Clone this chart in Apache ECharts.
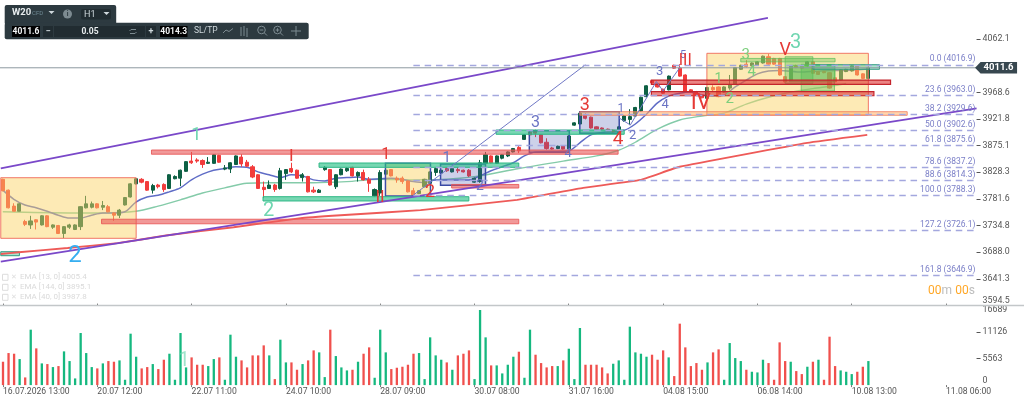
<!DOCTYPE html>
<html><head><meta charset="utf-8">
<style>html,body{margin:0;padding:0;background:#fff}#c{width:1024px;height:402px}</style>
<script src="https://cdn.jsdelivr.net/npm/echarts@6/dist/echarts.min.js"></script>
</head><body><div id="c"></div>
<script>
// ---------- data ----------
const slotCount = 176;
const tickLabels = ['16.07.2026 13:00','20.07 12:00','22.07 11:00','24.07 10:00','28.07 09:00','30.07 08:00','31.07 16:00','04.08 15:00','06.08 14:00','10.08 13:00','11.08 06:00'];
const priceTicks = [3594.5,3641.3,3688.0,3734.8,3781.6,3828.3,3875.1,3921.8,3968.6,4062.1];
const volumeTicks = [0,5563,11126,16689];
const lastPrice = 4011.6;
// open, close, low, high
const candles = [
[3816,3796,3795,3817],[3797,3766,3765,3798],[3769,3760,3760,3774],[3760,3773,3760,3774],[3742,3737,3734,3745],[3736,3743,3729,3752],[3745,3741,3728,3746],[3736,3752,3735,3753],
[3752,3733,3732,3753],[3732,3736,3729,3737],[3735,3721,3720,3736],[3721,3733,3713,3734],[3732,3736,3729,3738],[3728,3736,3727,3737],[3733,3768,3727,3769],[3766,3773,3765,3787],
[3767,3773,3765,3777],[3773,3766,3765,3774],[3767,3770,3762,3778],[3768,3759,3758,3771],[3757,3753,3743,3758],[3753,3762,3748,3764],[3771,3784,3770,3785],[3785,3808,3784,3809],
[3808,3817,3807,3818],[3816,3811,3809,3818],[3812,3797,3796,3813],[3797,3805,3791,3808],[3806,3803,3800,3808],[3807,3798,3794,3809],[3800,3824,3799,3825],[3817,3821,3816,3823],
[3818,3832,3804,3833],[3830,3847,3829,3848],[3848,3845,3843,3864],[3850,3848,3845,3853],[3849,3842,3836,3851],[3844,3846,3843,3855],[3844,3859,3843,3860],[3858,3846,3845,3859],
[3834,3836,3832,3841],[3834,3845,3827,3846],[3842,3857,3841,3858],[3855,3843,3838,3860],[3846,3839,3838,3850],[3838,3820,3818,3841],[3824,3800,3799,3825],[3802,3798,3783,3812],
[3800,3806,3799,3814],[3806,3798,3794,3808],[3800,3831,3798,3836],[3826,3833,3815,3834],[3835,3829,3827,3845],[3832,3818,3817,3833],[3819,3824,3812,3827],[3821,3794,3793,3822],
[3797,3794,3792,3803],[3793,3797,3792,3799],[3833,3837,3831,3839],[3833,3806,3805,3834],[3803,3824,3799,3825],[3824,3834,3823,3835],[3831,3835,3829,3837],[3837,3822,3821,3838],
[3822,3828,3812,3830],[3828,3815,3814,3833],[3816,3809,3794,3820],[3787,3798,3786,3800],[3792,3828,3787,3832],[3825,3832,3824,3833],[3833,3822,3821,3834],[3818,3815,3810,3821],
[3818,3812,3808,3821],[3813,3794,3793,3814],[3796,3788,3785,3801],[3791,3796,3790,3797],[3803,3816,3802,3817],[3809,3829,3807,3830],[3828,3835,3822,3836],[3827,3832,3826,3833],
[3835,3831,3829,3836],[3829,3835,3828,3836],[3833,3831,3827,3837],[3832,3829,3828,3833],[3832,3822,3820,3834],[3811,3818,3810,3819],[3812,3845,3810,3850],[3844,3859,3843,3864],
[3857,3845,3844,3858],[3844,3857,3843,3858],[3853,3859,3851,3860],[3857,3864,3855,3865],[3864,3870,3863,3871],[3872,3866,3862,3876],[3886,3894,3885,3895],[3899,3894,3892,3902],
[3900,3897,3890,3903],[3894,3880,3879,3895],[3881,3870,3868,3888],[3871,3869,3868,3873],[3870,3874,3869,3875],[3875,3869,3868,3876],[3869,3892,3868,3893],[3911,3915,3910,3916],
[3913,3932,3912,3933],[3928,3923,3921,3932],[3925,3906,3905,3926],[3908,3904,3903,3909],[3906,3904,3903,3907],[3904,3901,3900,3905],[3902,3899,3898,3903],[3897,3908,3895,3909],
[3919,3927,3917,3928],[3921,3926,3911,3939],[3927,3942,3926,3943],[3936,3960,3935,3961],[3961,3980,3960,3981],[3989,3985,3984,3990],[3983,3978,3977,3984],[3974,3967,3966,3975],
[3973,3997,3972,3998],[4016,4011,4010,4017],[4011,3997,3996,4018],[3999,3970,3969,4000],[3973,3969,3968,3974],[3970,3964,3963,3971],[3964,3959,3958,3965],[3958,3977,3957,3978],
[3977,3973,3969,3981],[3978,3961,3960,3979],[3969,3978,3968,3979],[3976,3982,3973,3999],[3983,4012,3982,4013],[4009,4016,4008,4017],[4018,4014,4012,4025],[4015,4020,4014,4021],
[4016,4022,4015,4023],[4020,4032,4019,4033],[4031,4018,4017,4036],[4028,4018,4017,4029],[4028,3999,3998,4029],[3996,3987,3986,3997],[3990,4015,3989,4016],[4015,4012,4011,4017],
[4015,4011,4010,4016],[4015,4022,4014,4023],[4022,4002,4001,4023],[4005,4000,3999,4006],[4005,4003,4002,4006],[4003,3976,3975,4004],[3994,3987,3986,3995],[3990,4008,3989,4009],
[4005,4009,4004,4010],[4006,4015,4005,4016],[4015,3999,3998,4016],[4001,3993,3992,4002],[3993,4011.6,3992,4012]
];
const volumes = [
4900,6720,6580,5460,1610,11620,7700,4550,4410,3780,3990,7070,5040,1400,10920,6720,3780,3500,4550,5040,4900,5180,1120,10780,5950,3500,3780,4410,3360,5320,6580,1120,
10920,3710,5810,4270,4270,3990,5460,5810,1120,10570,5950,5180,3710,6230,6230,8330,6230,1260,9520,4760,4760,3220,4410,5180,7280,6860,1680,11620,6090,3710,3080,3220,
4900,6580,7910,1540,11620,6860,3360,3640,3850,4270,6580,6720,1260,10010,6230,5320,4760,3220,6230,6580,7280,1260,15750,10010,4130,4130,2450,4270,5950,7000,1540,11620,
6370,4620,3710,3990,3990,5180,7630,1260,11970,4270,4270,4270,3710,2450,4480,5180,1120,12250,6860,6580,5950,6370,5320,7280,5810,1890,12880,7910,3990,4620,3220,4760,
6860,7490,1120,8820,5670,5040,3220,2800,2660,5320,4620,1120,8960,5040,4900,2940,2310,3850,4900,5320,1120,10150,3990,3080,2800,2310,2800,3850,5040
];
// 1 = green bar, 0 = red bar
const volumeUp = [
0,0,0,1,0,1,0,1,0,1,0,1,1,1,1,1,1,0,1,0,0,1,1,1,1,0,0,1,0,0,1,1,
1,1,0,0,0,1,1,0,1,1,1,0,0,0,0,0,1,0,1,1,0,0,1,0,0,1,1,0,1,1,1,0,
1,0,0,1,1,1,0,0,0,0,0,1,1,1,1,1,0,1,0,0,0,1,1,1,0,1,1,1,1,0,1,1,
0,0,0,0,1,0,1,1,1,0,0,0,0,0,1,1,1,1,1,1,1,0,0,0,1,0,0,0,0,0,0,1,
0,0,1,1,1,1,0,1,1,1,0,0,0,0,1,0,0,1,0,1,0,0,0,1,1,1,0,0,1
];
// sampled moving averages: [bar index, price]
const ema13 = [[0,3797],[2,3781],[4,3771],[6,3766],[8,3760],[10,3753],[12,3748],[14,3748],[16,3753],[18,3757],[20,3757],[22,3759],[24,3776],[26,3785],[28,3788],[30,3794],[32,3801],[34,3815],[36,3825],[38,3832],[40,3835],[42,3838],[44,3837],[46,3829],[48,3824],[50,3819],[52,3824],[54,3822],[56,3815],[58,3813],[60,3818],[62,3819],[64,3820],[66,3816],[68,3817],[70,3818],[72,3816],[74,3812],[76,3810],[78,3815],[80,3815],[84,3815],[86,3822],[88,3831],[90,3838],[92,3845],[94,3857],[96,3864],[100,3865],[102,3866],[104,3880],[106,3894],[108,3898],[112,3902],[114,3913],[116,3930],[118,3950],[120,3962],[122,3967],[124,3969],[126,3964],[128,3962],[130,3964],[132,3978],[134,3990],[136,4001],[138,4006],[140,4007],[144,4004],[148,4006.5],[152,4007],[156,4009.5]];
const ema40 = [[0,3759],[12,3757],[18,3757],[24,3760],[28,3769],[32,3780],[36,3792],[40,3801],[44,3809],[48,3810],[56,3810],[62,3812],[68,3816],[74,3815],[80,3816],[86,3822],[93,3835],[101,3848],[107,3857],[111,3867],[114,3881],[118,3904],[122,3920],[126,3927],[130,3932],[134,3948],[138,3960],[142,3969],[146,3975],[150,3980.5],[152,3984]];
const ema144 = [[-0.36,3685],[2.9,3688],[11.7,3695.5],[20.7,3704],[29.7,3718],[41.6,3732],[53.7,3748],[60.9,3753],[75.3,3762],[92.7,3780],[104.6,3801],[114.9,3815],[122,3838],[145,3880],[155.8,3894]];
const channelUpper = [[-0.36,3835.3],[137.9,4099]];
const channelLower = [[-0.36,3671.5],[175.5,3940.5]];
const fibAnchor = [[74,3788.3],[105,4016.9]];
const waveZigzag = [[111.1,3923.5],[113.1,3911.3],[117.8,3987.5],[119,3970.9],[122.1,4013]];
const fibLevels = [['0.0',4016.9],['23.6',3963.0],['38.2',3929.6],['50.0',3902.6],['61.8',3875.6],['78.6',3837.2],['88.6',3814.3],['100.0',3788.3],['127.2',3726.1],['161.8',3646.9]];
// zones: [first bar, last bar, top price, bottom price]
const yellowCoral = [[-0.36,24.04,3818.8,3712.5],[126.9,156,4037,3928.8]];
const yellowBlue = [[68.97,77.08,3844,3786.7]];
const blueBoxes = [[78.9,87,3842.9,3805.5],[94.9,102.1,3901.3,3863.4],[104,111.1,3934.6,3896.7]];
const redBands = [[26.8,110.9,3867.4,3860],[17.8,93,3746,3738],[80.9,93,3807,3800.7]];
const darkRedBands = [[116.9,160,3990,3982.6],[116.9,157,3969.7,3962.6]];
const peachBands = [[104,163,3934.6,3928.3]];
const greenBands = [[46.9,84,3785.5,3778],[57,93,3844.6,3837],[88.9,112,3902.5,3895]];
const tealBands = [[-0.36,3,3689,3682],[146,158,4017,4009]];
const paleGreenBoxes = [[141,146,4031,3984],[143.9,149.9,4017.7,3971],[133,150,4028,4022],[141.8,150,4016,3987]];
// wave labels: [text, bar, price, style]
const waveLabels = [
['1',34.9,3892,'teal18'],['2',13,3681.5,'cyan24'],['2',47.9,3760.4,'teal20'],['I',52,3855,'red17'],['1',69,3858.6,'red16'],['II',68,3783,'red17'],['2',77,3792,'red18'],
['1',80,3853.4,'blue15'],['2',86,3804,'blue14'],['3',96,3915,'blue16'],['4',101.9,3860,'blue13'],['3',104.9,3944.6,'red18'],['4',110.9,3887,'red19'],['1',111.4,3938.8,'blue12'],
['2',113.5,3892,'blue13'],['3',118.4,4004.7,'blue13'],['4',119.4,3947.6,'blue13'],['5',122.6,4034,'blue11'],['III',123,4024,'red16'],['IV',125.8,3949.3,'red22'],
['1',129,3991.4,'green14'],['2',131,3956.3,'green15'],['3',133.9,4034,'green15'],['4',135,4003,'green15'],['V',141,4041.6,'red18'],['3',142.9,4054.5,'teal20']
];
const legendRows = ['EMA [13, 0] 4005.4','EMA [144, 0] 3895.1','EMA [40, 0] 3987.8'];

// ---------- presentation ----------
const FONT = 'Roboto';
const slotPx = 5.553;
const categories = Array.from({length: slotCount}, (_, i) => i % 17 === 0 ? tickLabels[i / 17] : '');
const labelColours = {teal:'#6fd6b0',cyan:'#36aef0',red:'#e53935',blue:'#6b74c4',green:'#7ccf7c'};

function zoneSeries(data, fill, stroke, lw, z) {
  return {
    type:'custom', xAxisIndex:1, yAxisIndex:0, z, silent:true, clip:true, animation:false,
    data, encode:{x:[0,1],y:[2,3]},
    renderItem(params, api) {
      const a = api.coord([api.value(0), api.value(2)]);
      const b = api.coord([api.value(1), api.value(3)]);
      return {type:'rect', shape:{x:a[0],y:a[1],width:b[0]-a[0],height:b[1]-a[1]},
        style:{fill, stroke, lineWidth:lw}};
    }
  };
}
function lineSeries(data, color, width, z, smooth) {
  return {type:'line', xAxisIndex:1, yAxisIndex:0, data, showSymbol:false, smooth:smooth||false, z, silent:true, animation:false,
    lineStyle:{color, width}, connectNulls:true};
}

const series = [
  {type:'candlestick', xAxisIndex:0, yAxisIndex:0, data:candles, barWidth:3.6, z:2, silent:true, animation:false,
   itemStyle:{color:'#0e6044',color0:'#f23c3c',borderColor:'#0e6044',borderColor0:'#f23c3c',borderWidth:1}},
  lineSeries(ema40,'#84cba9',1.4,2,0.3),
  lineSeries(ema13,'#5f6cc6',1.5,2,0.3),
  zoneSeries(yellowCoral,'rgba(250,212,100,0.48)','rgba(240,105,90,0.9)',1,3),
  zoneSeries(yellowBlue,'rgba(250,212,100,0.48)','#3f4ea8',1.5,3),
  zoneSeries(blueBoxes,'rgba(70,85,175,0.27)','#3a4aa5',1.5,3),
  zoneSeries(peachBands,'rgba(255,180,110,0.55)','rgba(240,120,90,0.8)',1,3),
  zoneSeries(paleGreenBoxes,'rgba(85,190,85,0.38)','rgba(90,190,90,0.7)',1,3),
  zoneSeries(tealBands,'rgba(70,190,150,0.45)','#2f9b80',1,3),
  zoneSeries(greenBands,'rgba(35,190,130,0.62)','#2fb886',1,3),
  zoneSeries(redBands,'rgba(232,85,85,0.6)','rgba(232,85,85,0.85)',1,3),
  zoneSeries(darkRedBands,'rgba(222,50,50,0.6)','#c4242c',1.2,3),
  lineSeries(ema144,'#ee5a58',1.9,4,0.1),
  lineSeries(channelUpper,'#7a48c9',1.8,4),
  lineSeries(channelLower,'#7a48c9',1.8,4),
  lineSeries(fibAnchor,'#7078c6',1,4),
  lineSeries(waveZigzag,'#7078c6',1,4),
  {type:'line', xAxisIndex:1, yAxisIndex:0, data:[], z:5, silent:true, animation:false,
   markLine:{symbol:'none', silent:true, animation:false,
     lineStyle:{color:'#a3a7de',type:[6.5,4.8],width:1.3},
     label:{position:'insideEndTop',distance:1,color:'#7c80c8',fontSize:8.5,fontFamily:FONT,formatter:'{b}'},
     data:fibLevels.map(f => [{name:f[0]+' ('+f[1].toFixed(1)+')',coord:[74,f[1]]},{coord:[175.5,f[1]]}])}},
  lineSeries([[-0.5,lastPrice],[175.5,lastPrice]],'#8d9aa1',1,5),
  {type:'custom', xAxisIndex:1, yAxisIndex:0, z:7, silent:true, clip:false, animation:false, data:waveLabels, encode:{x:1,y:2},
   renderItem(params, api) {
     const row = waveLabels[params.dataIndex];
     const p = api.coord([row[1], row[2]]);
     const m = row[3].match(/([a-z]+)(\d+)/);
     return {type:'text', x:p[0], y:p[1], style:{text:row[0], fill:labelColours[m[1]], font:m[2]+'px '+FONT, align:'center', verticalAlign:'middle'}};
   }},
  {type:'custom', xAxisIndex:1, yAxisIndex:0, z:8, silent:true, clip:false, animation:false, data:[[175.5,lastPrice]], encode:{x:0,y:1},
   renderItem(params, api) {
     const p = api.coord([api.value(0), api.value(1)]);
     const x = p[0]-1.5, y = p[1];
     return {type:'group', children:[
       {type:'polygon', shape:{points:[[x,y],[x+5.5,y-5.7],[x+42,y-5.7],[x+42,y+5.7],[x+5.5,y+5.7]]}, style:{fill:'#37474f'}},
       {type:'text', x:x+8.5, y:y, style:{text:String(lastPrice), fill:'#fff', font:'bold 9.5px '+FONT, verticalAlign:'middle'}}
     ]};
   }},
  {type:'bar', xAxisIndex:2, yAxisIndex:1, barWidth:2.3, silent:true, animation:false,
   data:volumes.map((v,i) => ({value:v, itemStyle:{color: volumeUp[i] ? '#15b87f' : '#f0504d'}}))}
];

// toolbar and pale notes
const bar = '#2d3a40', ink = '#cfd8dc';
function txt(x,y,s,font,fill,align){return {type:'text',x,y,z:20,silent:true,style:{text:s,font:font+' '+FONT,fill,align:align||'left',verticalAlign:'middle'}};}
function box(x,y,w,h,fill,r){return {type:'rect',z:19,silent:true,shape:{x,y,width:w,height:h,r:r||0},style:{fill}};}
function tri(cx,cy){return {type:'polygon',z:20,silent:true,shape:{points:[[cx-3,cy-1.5],[cx+3,cy-1.5],[cx,cy+1.5]]},style:{fill:ink}};}
function poly(points,stroke){return {type:'polyline',z:20,silent:true,shape:{points},style:{stroke:stroke||'#7d8b91',fill:'none',lineWidth:1}};}
function ring(cx,cy,r){return {type:'circle',z:20,silent:true,shape:{cx,cy,r},style:{stroke:'#7d8b91',fill:'none',lineWidth:1}};}
const graphics = [
  {type:'line',z:1,silent:true,shape:{x1:0,y1:305.6,x2:1024,y2:305.6},style:{stroke:'#c3c7c9',lineWidth:1.5}},
  box(4.7,5,111.5,20,bar,2), box(4.7,22.7,304,16.5,bar,2),
  txt(12,13,'W20','bold 9.5px','#e8edef'), txt(32,13.5,'CFD','6px','#6f8a94'), tri(51.5,12.5),
  {type:'circle',z:20,silent:true,shape:{cx:67.5,cy:14,r:4.5},style:{fill:'#7d8b91'}}, txt(67.5,14,'i','bold 6.5px','#2d3a40','center'),
  box(81,9,30,10.5,'#212c31',2), txt(84,14.5,'H1','9px',ink), tri(106.5,13.5),
  box(12,26,28,11,'#000'), txt(26,31.7,'4011.6','bold 8.5px','#f2f4f5','center'),
  box(43,26,10,11,'#212c31'), txt(48,31.7,'−','bold 9px',ink,'center'),
  box(54,26,91,11,'#212c31'), txt(90,31.7,'0.05','bold 8.5px','#e8edef','center'),
  poly([[129.5,31],[131,29.5],[136,29.5]]), poly([[136.5,32],[135,33.5],[130,33.5]]),
  box(146,26,10,11,'#212c31'), txt(151,31.7,'+','bold 9px',ink,'center'),
  box(160,26,27.5,11,'#000'), txt(173.7,31.7,'4014.3','bold 8.5px','#f2f4f5','center'),
  txt(194,31,'SL/TP','8.5px',ink),
  poly([[223,33],[226,30],[229,31.5],[233,28.5]]),
  poly([[241,27],[241,36]]), poly([[244,26],[244,36]]), poly([[247,28],[247,37]]),
  ring(261.5,30,3.8), poly([[264.3,32.8],[267,35.5]]), poly([[259.7,30],[263.3,30]]),
  ring(277.5,30,3.8), poly([[280.3,32.8],[283,35.5]]), poly([[275.7,30],[279.3,30]]), poly([[277.5,28.2],[277.5,31.8]]),
  poly([[291,31],[301,31]]), poly([[296,26],[296,36]]),
  txt(184,361,'1','20px','rgba(111,214,176,0.65)','center'),
  {type:'text',x:975,y:291,z:6,silent:true,style:{text:'{o|00}{g|m} {o|00}{g|s}',align:'right',verticalAlign:'middle',
     rich:{o:{fill:'#ffa726',font:'12px '+FONT},g:{fill:'#bdbdbd',font:'12px '+FONT}}}}
];
legendRows.forEach((s,i) => {
  const y = 277.3 + i*10;
  graphics.push(txt(20,y,s,'8px','#dadada'));
  graphics.push(txt(13.5,y,'✕','7px','#dddddd','center'));
  graphics.push({type:'rect',z:20,silent:true,shape:{x:2.5,y:y-3,width:5.5,height:6},style:{fill:'none',stroke:'#dddddd',lineWidth:1}});
});

const priceY = {
  gridIndex:0, type:'value', position:'right', min:3594.5, max:4130.5, scale:true, splitLine:{show:false}, axisLine:{show:false,onZero:false},
  axisTick:{show:true,length:4,lineStyle:{color:'#555'},customValues:priceTicks.filter(v => v !== 3594.5)},
  axisLabel:{customValues:priceTicks, margin:6, color:'#555', fontSize:8.8, fontFamily:FONT, verticalAlignMinLabel:'bottom',
    formatter:v => v.toFixed(1)}
};
const volumeY = {
  gridIndex:1, type:'value', position:'right', min:0, max:16689, splitLine:{show:false}, axisLine:{show:false,onZero:false},
  axisTick:{show:true,length:4,lineStyle:{color:'#555'},customValues:[5563,11126]},
  axisLabel:{customValues:volumeTicks, margin:6, color:'#555', fontSize:8.8, fontFamily:FONT,
    verticalAlignMinLabel:'bottom', verticalAlignMaxLabel:'top', formatter:v => String(v)}
};

const chart = echarts.init(document.getElementById('c'), null, {renderer:'canvas', width:1024, height:402});
chart.setOption({
  animation:false, backgroundColor:'#fff',
  grid:[
    {left:2 - slotPx/2, top:0, width:slotPx*slotCount, height:305.6},
    {left:2 - slotPx/2, top:305.5, width:slotPx*slotCount, height:79.6}
  ],
  xAxis:[
    {gridIndex:0, type:'category', data:categories, axisLine:{show:false,onZero:false}, axisLabel:{show:false},
     axisTick:{show:true, alignWithLabel:true, interval:16, length:2, inside:true, lineStyle:{color:'#777'}}},
    {gridIndex:0, type:'value', min:-0.5, max:slotCount-0.5, show:false, splitLine:{show:false}},
    {gridIndex:1, type:'category', data:categories, axisLine:{show:false,onZero:false},
     axisTick:{show:true, alignWithLabel:true, interval:16, length:2, lineStyle:{color:'#777'}},
     axisLabel:{interval:16, align:'left', margin:2.5, color:'#555', fontSize:8.6, fontFamily:FONT, hideOverlap:false}}
  ],
  yAxis:[priceY, volumeY],
  series,
  graphic:graphics
});
</script></body></html>
